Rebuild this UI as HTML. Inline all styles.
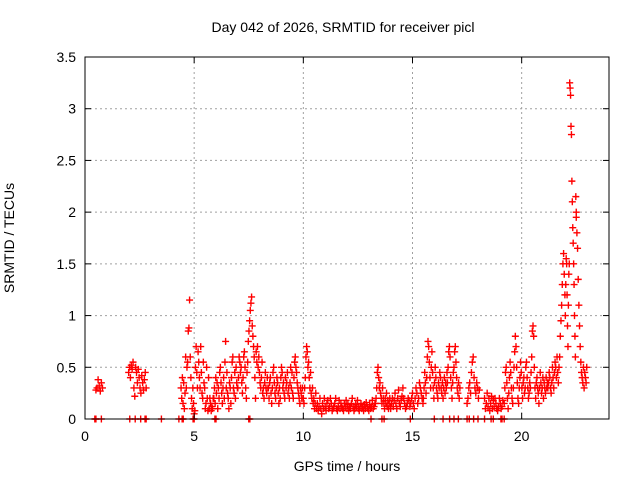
<!DOCTYPE html>
<html><head><meta charset="utf-8">
<style>body{margin:0;background:#fff}svg{display:block;font-family:"Liberation Sans",sans-serif}</style>
</head><body>
<svg id="chart" width="640" height="480">
<g id="grid"></g>
<g id="marks"></g>
<rect x="85" y="57" width="524" height="362" fill="none" stroke="#000"/>
<g id="axes"></g>
<text x="343" y="32" text-anchor="middle" font-size="14">Day 042 of 2026, SRMTID for receiver picl</text>
<text x="347" y="471" text-anchor="middle" font-size="14">GPS time / hours</text>
<text transform="translate(14,238) rotate(-90)" text-anchor="middle" font-size="14">SRMTID / TECUs</text>
</svg>
<script>
const xTicks=[0,5,10,15,20];
const yTicks=[0,0.5,1,1.5,2,2.5,3,3.5];
const yTickLabels=["0","0.5","1","1.5","2","2.5","3","3.5"];
const segStart=[0.5,2.0,4.4,5.9,7.0,8.4,10.0,10.6,13.3,14.0,15.5,16.6,17.5,18.3,19.2,20.4,21.2,22.0,22.5];
const segStep=[0.05,0.04,0.03,0.03,0.03,0.03,0.03,0.04,0.03,0.04,0.03,0.03,0.04,0.04,0.03,0.03,0.03,0.02,0.03];
const segVals=[
[.28,.3,.38,.32,.27,.35,.3],
[.45,.5,.4,.52,.48,.55,.3,.22,.5,.45,.35,.48,.4,.3,.25,.42,.35,.28,.38,.45,.3],
[.3,.2,.4,.15,.35,.1,.25,.6,.3,.5,.55,.85,.88,1.15,.6,.4,.2,.1,.3,.15,.05,.08,.5,.7,.45,.3,.65,.55,.4,.3,.7,.45,.25,.2,.55,.35,.3,.1,.15,.5,.2,.08,.4,.1,.2,.15,.08,.12,.1,.2],
[.2,.3,.15,.4,.25,.35,.1,.3,.2,.45,.5,.35,.25,.15,.3,.4,.2,.55,.75,.3,.45,.25,.2,.1,.35,.3,.15,.4,.55,.6,.3,.25,.45,.2,.5,.35,.3],
[.3,.4,.6,.55,.45,.5,.35,.25,.4,.6,.65,.5,.3,.2,.45,.55,.75,.85,.95,1.05,1.12,1.18,.9,.8,.7,.6,.4,.2,.65,.55,.7,.5,.6,.45,.35,.3,.4,.55,.25,.3,.2,.35,.45,.3,.25,.4,.3],
[.3,.2,.35,.4,.25,.15,.3,.45,.5,.35,.25,.2,.3,.4,.35,.25,.15,.3,.2,.4,.5,.45,.3,.35,.25,.2,.4,.3,.35,.45,.25,.3,.2,.35,.5,.3,.45,.25,.2,.4,.55,.6,.5,.45,.35,.3,.25,.2,.15,.3,.25,.2,.3],
[.2,.15,.3,.4,.6,.7,.65,.5,.55,.4,.3,.45,.25,.2,.3,.15,.2,.1,.15,.25],
[.1,.15,.08,.12,.2,.1,.05,.15,.1,.2,.12,.08,.15,.18,.1,.12,.2,.15,.08,.1,.12,.15,.2,.1,.08,.12,.18,.1,.15,.12,.1,.08,.15,.12,.18,.1,.14,.08,.12,.1,.15,.2,.12,.08,.1,.14,.12,.18,.1,.08,.12,.15,.1,.12,.08,.14,.1,.16,.12,.1,.08,.14,.1,.12,.18,.1,.12,.15],
[.15,.2,.3,.45,.5,.4,.3,.35,.25,.2,.15,.3,.2,.15,.1,.2,.15,.25,.12,.18,.1,.15,.2,.12],
[.1,.15,.2,.12,.18,.25,.15,.1,.2,.28,.15,.12,.18,.22,.3,.2,.15,.1,.12,.15,.2,.18,.12,.15,.2,.25,.15,.1,.2,.3,.25,.15,.2,.35,.3,.25,.2,.15],
[.2,.3,.45,.35,.25,.4,.6,.75,.7,.55,.4,.3,.5,.65,.45,.3,.2,.35,.5,.4,.3,.25,.2,.35,.3,.45,.4,.3,.25,.35,.2,.3,.4,.25,.35,.3,.45],
[.35,.5,.65,.7,.6,.4,.3,.2,.35,.45,.5,.65,.7,.55,.4,.3,.25,.35,.2,.3],
[.15,.2,.3,.35,.25,.45,.55,.6,.4,.3,.25,.35,.3,.2,.28],
[.2,.1,.15,.25,.12,.2,.08,.15,.22,.1,.18,.12,.2,.15,.1,.08,.12,.2,.15,.1,.12,.18],
[.15,.3,.45,.5,.35,.2,.1,.25,.4,.55,.45,.3,.2,.15,.3,.5,.65,.8,.7,.5,.35,.2,.15,.3,.4,.55,.45,.3,.2,.35,.4,.25,.3,.5,.55,.4,.3,.2,.25,.35],
[.3,.45,.6,.85,.9,.8,.5,.3,.2,.35,.4,.3,.25,.15,.3,.45,.35,.25,.3,.4,.2,.35,.3,.25,.4,.3,.35],
[.3,.35,.45,.4,.3,.25,.35,.5,.4,.3,.45,.55,.5,.4,.6,.45,.35,.5,.6,.8,.95,1.1,1.3,1.5,1.6,1.4,1.2],
[1.0,1.3,1.55,1.5,1.2,.9,.7,1.1,1.4,1.5,3.25,3.2,3.13,2.83,2.75,2.3,2.1,1.85,1.7,1.5,1.3,1.0,.8,.6,2.15,2.0],
[1.95,1.8,1.65,1.35,1.1,.9,.7,.55,.45,.4,.35,.5,.3,.45,.4,.35,.5]
];
const zeroTimes=[0.45,0.5,0.75,2.05,2.3,2.55,2.75,2.8,3.5,4.3,4.45,4.5,4.95,5.0,5.95,6.0,7.5,7.55,13.1,13.6,13.7,14.9,16.0,16.4,16.7,16.9,17.1,17.5,17.6,17.8,18.0,18.3,18.6,18.7,19.05,19.1,19.2];

const X0=85,X1=609,Y0=419,Y1=57,XMAX=24,YMAX=3.5;
const sx=h=>X0+h/XMAX*(X1-X0);
const sy=v=>Y0-v/YMAX*(Y0-Y1);
const NS="http://www.w3.org/2000/svg";
function mk(tag,attrs,parent){const e=document.createElementNS(NS,tag);for(const k in attrs)e.setAttribute(k,attrs[k]);parent.appendChild(e);return e;}
const grid=document.getElementById('grid'),axes=document.getElementById('axes'),marks=document.getElementById('marks');
xTicks.forEach(t=>{
  const x=sx(t);
  if(t>0){const g=mk('line',{x1:x,x2:x,y1:Y0,y2:Y1,stroke:'#a0a0a0','stroke-dasharray':'2,3'},grid);
  
  }
  mk('line',{x1:x,x2:x,y1:Y0,y2:Y0-6,stroke:'#000'},axes);
  mk('line',{x1:x,x2:x,y1:Y1,y2:Y1+6,stroke:'#000'},axes);
  const tx=mk('text',{x:x,y:Y0+22,'text-anchor':'middle','font-size':14},axes);
  tx.textContent=String(t);
  
  
});
yTicks.forEach((t,i)=>{
  const y=sy(t);
  if(t>0&&t<YMAX){const g=mk('line',{x1:X0,x2:X1,y1:y,y2:y,stroke:'#a0a0a0','stroke-dasharray':'2,3'},grid);
  
  }
  mk('line',{x1:X0,x2:X0+6,y1:y,y2:y,stroke:'#000'},axes);
  mk('line',{x1:X1,x2:X1-6,y1:y,y2:y,stroke:'#000'},axes);
  const tx=mk('text',{x:X0-9,y:y+5,'text-anchor':'end','font-size':14},axes);
  tx.textContent=yTickLabels[i];
  
  
});
function cross(h,v){
  const x=sx(h),y=sy(v);
  const p=mk('path',{d:`M${x-3.5},${y}h7M${x},${y-3.5}v7`,stroke:'#f00','stroke-width':1.4,fill:'none'},marks);
  
  
}
segVals.forEach((vals,s)=>vals.forEach((v,i)=>cross(segStart[s]+i*segStep[s],v)));
zeroTimes.forEach(h=>cross(h,0));
</script>
</body></html>
